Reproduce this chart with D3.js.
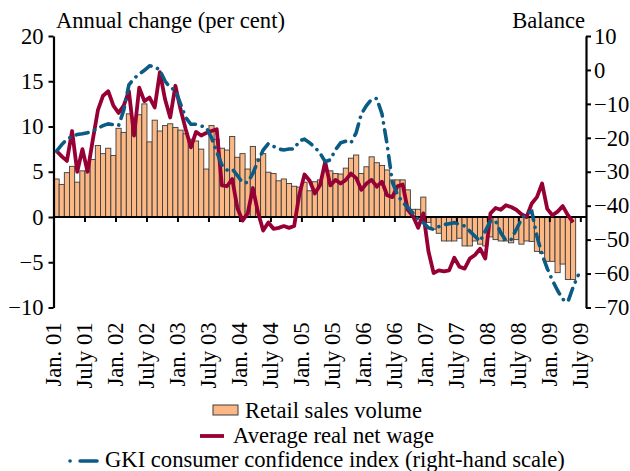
<!DOCTYPE html>
<html>
<head>
<meta charset="utf-8">
<script src="https://cdn.jsdelivr.net/npm/d3@7"></script>
<style>
  body { margin: 0; background: #fff; }
  svg { display: block; }
  svg text { font-family: "Liberation Serif", "Times New Roman", serif; }
</style>
</head>
<body>
<svg id="chart" width="630" height="471"></svg>
<script>
// ======================
// DATA
// ======================

// months Jan. 01 .. July 09 (103 months)
const months = d3.timeMonths(new Date(2001, 0, 1), new Date(2009, 7, 1));

const tickLabels = [
    "Jan. 01", "July 01", "Jan. 02", "July 02", "Jan. 03", "July 03",
    "Jan. 04", "July 04", "Jan. 05", "July 05", "Jan. 06", "July 06",
    "Jan. 07", "July 07", "Jan. 08", "July 08", "Jan. 09", "July 09"
];

// Retail sales volume, annual change (per cent), Jan. 01 - May 09
const retailSales = [
    4.2, 3.6, 4.9, 5.6, 3.85, 5.1, 5.1, 6.35, 7.9, 7.0, 7.6, 6.8,
    9.8, 9.35, 11.4, 10.8, 11.3, 12.5, 8.3, 10.7, 9.5, 10.1, 10.3, 9.9,
    9.6, 9.2, 8.6, 8.4, 7.5, 5.3, 10.1, 8.6, 7.6, 7.4, 8.9, 6.6,
    7.0, 5.3, 7.8, 6.4, 7.0, 4.95, 4.8, 4.0, 4.2, 3.7, 3.4, 3.3,
    3.85, 2.9, 3.9, 4.1, 5.0, 5.1, 4.8, 4.75, 5.4, 6.5, 6.85, 4.8,
    5.55, 6.65, 6.0, 5.7, 5.2, 4.1, 4.1, 4.1, 3.0, 0.85, 0.85, 2.2,
    -0.6, -1.35, -1.8, -2.65, -2.65, -2.65, -2.35, -3.2, -3.2, -2.65, -3.0, -3.2,
    -2.2, -2.5, -2.65, -2.65, -2.85, -2.5, -3.0, -2.65, -2.7, -3.8, -4.0, -4.9,
    -4.9, -6.15, -5.2, -6.9, -6.9
];

// Average real net wage, annual change (per cent), Jan. 01 - May 09
const realWage = [
    7.3, 6.7, 6.2, 9.5, 5.0, 7.5, 5.0, 8.5, 11.8, 13.4, 13.9, 12.3,
    11.5, 12.3, 13.9, 9.0, 14.3, 12.8, 13.2, 12.1, 16.0, 13.0, 11.0, 14.5,
    11.9, 9.7, 7.7, 9.4, 9.0, 9.3, 9.5, 9.7, 3.5, 3.4, 4.2, 1.0,
    -0.4, 0.4, 3.2, 0.5, -1.5, -0.6, -1.3, -1.2, -1.0, -1.2, -1.0, 2.5,
    4.7, 4.0, 2.6, 3.5, 6.1, 3.5, 4.1, 3.7, 4.1, 4.8, 4.3, 3.0,
    3.7, 4.1, 3.35, 3.9, 2.4, 2.2, 3.4, 3.6, 0.8, 0.1, -1.2, 0.4,
    -3.8, -6.2, -5.9, -6.0, -5.9, -4.5, -5.5, -5.7, -4.6, -4.2, -3.5, -4.6,
    0.4, 1.0, 0.8, 1.3, 1.1, 0.8, 0.3, 0.0, 1.5, 2.2, 3.7, 0.9,
    0.2, 0.6, 1.2, 0.2, -0.6
];

// GKI consumer confidence index, balance (right-hand scale), Jan. 01 - June 09
const gkiIndex = [
    -23.9, -22, -20.4, -19.6, -19, -18.8, -18.5, -18, -17.2, -16.4, -15.9, -16.1,
    -16.4, -11.9, -4.4, -2.5, -1.2, -0.1, 1.2, 1.0, -0.1, -3.3, -5.2, -6,
    -10, -14, -16, -16, -16.5, -17, -20, -24.1, -28, -29.5, -29.2, -31.1,
    -33.2, -33.2, -30.5, -26.8, -23.6, -21.7, -22.5, -23.3, -23.6, -23.3, -23.3, -20.9,
    -20.4, -21.5, -22.8, -24.5, -27, -26.5, -23.5, -21.5, -21, -21.5, -18.5, -13,
    -10.5, -8.6, -8.4, -13, -22, -33, -36.8, -39, -40.5, -42.2, -44.1, -45,
    -46.5, -47, -46.2, -45.6, -45.3, -45, -45.5, -46, -47.5, -49, -50.5, -47.5,
    -44.5, -44.5, -48, -50.3, -50, -47, -44, -42.2, -41.7, -49, -54.4, -58.5,
    -62, -65, -67.6, -68.3, -64, -60.5
];

const leftTicks = [20, 15, 10, 5, 0, -5, -10];
const rightTicks = [10, 0, -10, -20, -30, -40, -50, -60, -70];

// ======================
// CHART SETUP
// ======================

const svg = d3.select("#chart");
const margin = { top: 36, right: 44, bottom: 163.5, left: 54 };
const width = 630;
const height = 471;
const innerBottom = height - margin.bottom;

const barFill = "#fbb784";
const barStroke = "#3c3c3c";
const wageColor = "#970034";
const gkiColor = "#0b5b85";
const fontFamily = "Liberation Serif";
const fontSize = "22.6px";

const x = d3.scaleBand()
    .domain(months.map((d, i) => i))
    .range([margin.left, width - margin.right])
    .padding(0);

const yLeft = d3.scaleLinear().domain([-10, 20]).range([innerBottom, margin.top]);
const yRight = d3.scaleLinear().domain([-70, 10]).range([innerBottom, margin.top]);

const xMid = i => x(i) + x.bandwidth() / 2;

// ======================
// BARS
// ======================

svg.append("g")
    .selectAll("rect")
    .data(retailSales)
    .join("rect")
    .attr("x", (d, i) => x(i))
    .attr("width", x.bandwidth())
    .attr("y", d => yLeft(Math.max(0, d)))
    .attr("height", d => Math.abs(yLeft(d) - yLeft(0)))
    .attr("fill", barFill)
    .attr("stroke", barStroke)
    .attr("stroke-width", 0.9);

// ======================
// AXES
// ======================

// zero line
svg.append("line")
    .attr("x1", margin.left)
    .attr("x2", width - margin.right)
    .attr("y1", yLeft(0))
    .attr("y2", yLeft(0))
    .attr("stroke", "#000")
    .attr("stroke-width", 2.2);

// month ticks on the zero line, at the start of each half year
const tickIdx = months.map((d, i) => i).filter(i => i % 6 === 0);

const tickAxis = svg.append("g")
    .attr("transform", `translate(${-x.bandwidth() / 2},${yLeft(0)})`)
    .call(d3.axisBottom(x).tickValues(tickIdx).tickSize(5).tickFormat(""));
tickAxis.select(".domain").remove();
tickAxis.selectAll("line").attr("stroke-width", 2);

// month labels below the plot
const labelAxis = svg.append("g")
    .attr("transform", `translate(${-x.bandwidth() / 2},${innerBottom})`)
    .call(d3.axisBottom(x).tickValues(tickIdx).tickSize(0)
        .tickFormat((d, k) => tickLabels[k]));
labelAxis.select(".domain").remove();
labelAxis.selectAll("text")
    .attr("transform", "rotate(-90)")
    .attr("x", -15)
    .attr("y", 0)
    .attr("dy", "0.33em")
    .attr("text-anchor", "end")
    .attr("fill", "#000")
    .style("font-size", fontSize)
    .style("font-family", fontFamily);

const leftAxis = svg.append("g")
    .attr("transform", `translate(${margin.left - 0.5},0)`)
    .call(d3.axisLeft(yLeft).tickValues(leftTicks).tickSize(5).tickSizeOuter(0).tickPadding(5));

const rightAxis = svg.append("g")
    .attr("transform", `translate(${width - margin.right},0)`)
    .call(d3.axisRight(yRight).tickValues(rightTicks).tickSize(5).tickSizeOuter(0).tickPadding(3));

[leftAxis, rightAxis].forEach(g => {
    g.select(".domain").attr("stroke-width", 2.2);
    g.selectAll(".tick line").attr("stroke-width", 2);
    g.selectAll("text")
        .attr("fill", "#000")
        .style("font-size", fontSize)
        .style("font-family", fontFamily);
});

// axis titles
svg.append("text")
    .attr("x", 56)
    .attr("y", 28)
    .style("font-size", fontSize)
    .style("font-family", fontFamily)
    .text("Annual change (per cent)");

svg.append("text")
    .attr("x", 585)
    .attr("y", 28)
    .attr("text-anchor", "end")
    .style("font-size", fontSize)
    .style("font-family", fontFamily)
    .text("Balance");

// ======================
// LINES
// ======================

const wageLine = d3.line()
    .x((d, i) => xMid(i))
    .y(d => yLeft(d));

const gkiLine = d3.line()
    .x((d, i) => xMid(i))
    .y(d => yRight(d));

svg.append("path")
    .datum(realWage)
    .attr("d", wageLine)
    .attr("fill", "none")
    .attr("stroke", wageColor)
    .attr("stroke-width", 3.8)
    .attr("stroke-linejoin", "round");

svg.append("path")
    .datum(gkiIndex)
    .attr("d", gkiLine)
    .attr("fill", "none")
    .attr("stroke", gkiColor)
    .attr("stroke-width", 3.6)
    .attr("stroke-linecap", "round")
    .attr("stroke-dasharray", "12,7,0.1,7");

// ======================
// LEGEND
// ======================

const legend = svg.append("g")
    .style("font-size", fontSize)
    .style("font-family", fontFamily);

legend.append("rect")
    .attr("x", 213).attr("y", 405)
    .attr("width", 25).attr("height", 10)
    .attr("fill", barFill)
    .attr("stroke", barStroke)
    .attr("stroke-width", 1);
legend.append("text").attr("x", 245).attr("y", 418).text("Retail sales volume");

legend.append("line")
    .attr("x1", 200).attr("x2", 224)
    .attr("y1", 436).attr("y2", 436)
    .attr("stroke", wageColor)
    .attr("stroke-width", 3.8);
legend.append("text").attr("x", 233).attr("y", 443).text("Average real net wage");

legend.append("line")
    .attr("x1", 70).attr("x2", 97)
    .attr("y1", 461).attr("y2", 461)
    .attr("stroke", gkiColor)
    .attr("stroke-width", 3.6)
    .attr("stroke-linecap", "round")
    .attr("stroke-dasharray", "0.1,10,17");
legend.append("text").attr("x", 105).attr("y", 467).text("GKI consumer confidence index (right-hand scale)");
</script>
</body>
</html>
